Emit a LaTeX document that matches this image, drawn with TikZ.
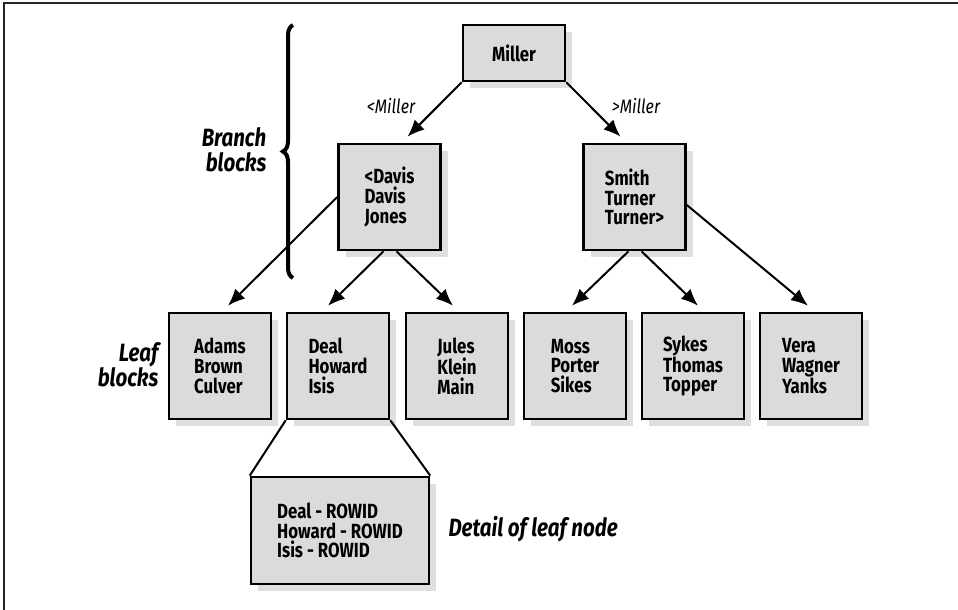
\documentclass[tikz,border=0pt]{standalone}
\usepackage{fontspec}
\setmainfont{Fira Sans}[FakeStretch=0.82]
\usepackage{tikz}
\usetikzlibrary{arrows.meta,shadows,decorations.pathreplacing}

\tikzset{
  block/.style={draw=black, line width=2.6pt, fill=black!14, align=left,
    minimum width=102pt, minimum height=106pt, inner sep=0pt,
    font=\fontsize{20.5}{19.8}\selectfont\bfseries,
    drop shadow={shadow xshift=7pt, shadow yshift=-7pt, fill=black!25}},
  edge/.style={line width=2pt, -{Latex[length=17pt,width=14pt]}},
  link/.style={line width=2pt},
  keylabel/.style={font=\fontsize{19.5}{22}\selectfont\itshape},
  sidelabel/.style={font=\fontsize{25}{25}\selectfont\bfseries\itshape, align=right}
}

\begin{document}
\begin{tikzpicture}[x=1pt,y=-1pt]
        \useasboundingbox (0,0) rectangle (958,610);
        \draw[line width=1.4pt, black!85] (4,610) -- (4,3) -- (958,3);

        \node[block, minimum height=56pt] (miller) at (514,53) {Miller};

        \node[block] (davis) at (389.5,197) {<Davis\\Davis\\Jones};
        \node[block] (smith) at (634.5,197) {Smith\\Turner\\Turner>};

        \node[block] (adams) at (220,366) {Adams\\Brown\\Culver};
        \node[block] (deal)  at (338,366) {Deal\\Howard\\Isis};
        \node[block] (jules) at (457,366) {Jules\\Klein\\Main};
        \node[block] (moss)  at (575,366) {Moss\\Porter\\Sikes};
        \node[block] (sykes) at (693,366) {Sykes\\Thomas\\Topper};
        \node[block] (vera)  at (811,366) {Vera\\Wagner\\Yanks};

        \node[block, minimum width=178pt, minimum height=107pt] (detail) at (340,530.5) {Deal - ROWID\\Howard - ROWID\\Isis - ROWID};

        \node[keylabel] (lt) at (391,106) {<Miller};
        \node[keylabel] (gt) at (636,106) {>Miller};

        \node[sidelabel] (branch) at (234,150) {Branch\\blocks};
        \node[sidelabel] (leaf) at (128,365) {Leaf\\blocks};
        \node[font=\fontsize{25}{26}\selectfont\bfseries\itshape, anchor=west] (detaillabel) at (445,529) {Detail of leaf node};

        \draw[line width=4pt, decorate, decoration={brace, amplitude=10pt}] (293,278) -- (293,25);

        \draw[edge] (miller.south west) -- ([xshift=18pt,yshift=6pt]davis.north);
        \draw[edge] (miller.south east) -- ([xshift=-14pt,yshift=6pt]smith.north);

        \draw[edge] (davis.west) -- ([xshift=8pt,yshift=6pt]adams.north);
        \draw[edge] ([xshift=-6pt]davis.south) -- ([xshift=-10pt,yshift=6pt]deal.north);
        \draw[edge] ([xshift=7pt]davis.south) -- ([xshift=-4pt,yshift=6pt]jules.north);

        \draw[edge] ([xshift=-6pt]smith.south) -- ([xshift=-3pt,yshift=6pt]moss.north);
        \draw[edge] ([xshift=7pt]smith.south) -- ([xshift=5pt,yshift=6pt]sykes.north);
        \draw[edge] ([yshift=-8pt]smith.east) -- ([xshift=-3pt,yshift=6pt]vera.north);

        \draw[link] (deal.south west) -- (detail.north west);
        \draw[link] (deal.south east) -- (detail.north east);
\end{tikzpicture}
\end{document}
